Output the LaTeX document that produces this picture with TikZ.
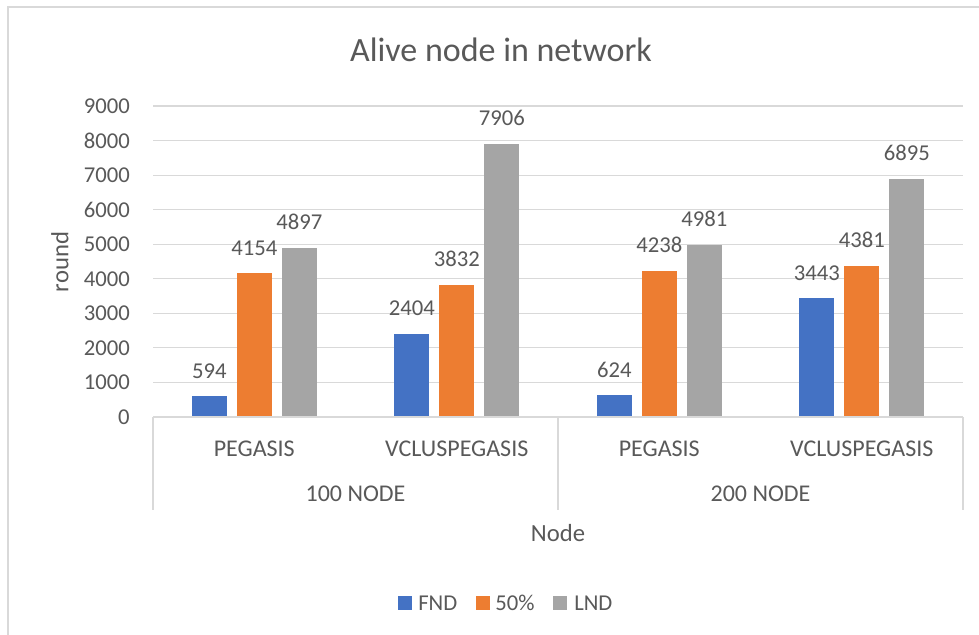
\documentclass[tikz,border=0pt]{standalone}
\usepackage{fontspec}
\setmainfont{Carlito}
\definecolor{fndblue}{HTML}{4472C4}
\definecolor{midorange}{HTML}{ED7D31}
\definecolor{lndgray}{HTML}{A5A5A5}
\definecolor{gridgray}{HTML}{D9D9D9}
\definecolor{txtgray}{HTML}{595959}
\begin{document}
\begin{tikzpicture}[x=0.75pt,y=-0.75pt,
  lbl/.style={text=txtgray,font=\fontsize{17}{20}\selectfont,inner sep=0pt},
  catlbl/.style={text=txtgray,font=\fontsize{18}{21}\selectfont,inner sep=0pt},
  axtitle/.style={text=txtgray,font=\fontsize{18.5}{22}\selectfont,inner sep=0pt},
  gridline/.style={draw=gridgray,line width=0.9pt},
  key/.style={inner sep=0pt,minimum size=10.5pt}]
\useasboundingbox (0,0) rectangle (979,635);
\fill[white] (0,0) rectangle (979,635);
% chart frame
\draw[gridgray,line width=1pt] (8,635) -- (8,7) -- (979,7);
% title
\node[text=txtgray,font=\fontsize{25.5}{29}\selectfont,inner sep=0pt] (title) at (501,50) {Alive node in network};
% horizontal gridlines and value ticks
\foreach \k in {1,...,9} \draw[gridline] (153,{417-34.556*\k}) -- (963,{417-34.556*\k});
\foreach \k in {0,...,9} {
  \pgfmathtruncatemacro{\tv}{1000*\k}
  \node[lbl,anchor=east] (tick\k) at (130,{417-34.556*\k}) {\tv};
}
% bars with value labels
\foreach \c/\a/\b/\g [count=\i] in {254.25/594/4154/4897, 456.75/2404/3832/7906, 659.25/624/4238/4981, 861.75/3443/4381/6895} {
  \fill[fndblue] ({\c-62.5},417) rectangle ({\c-27.5},{417-0.034556*\a});
  \fill[midorange] ({\c-17.5},417) rectangle ({\c+17.5},{417-0.034556*\b});
  \fill[lndgray] ({\c+27.5},417) rectangle ({\c+62.5},{417-0.034556*\g});
  \node[lbl,anchor=base] (vf\i) at ({\c-45},{417-0.034556*\a-18}) {\a};
  \node[lbl,anchor=base] (vm\i) at ({\c},{417-0.034556*\b-18}) {\b};
  \node[lbl,anchor=base] (vl\i) at ({\c+45},{417-0.034556*\g-18}) {\g};
}
% category axis
\draw[gridline] (153,417) -- (963,417);
\foreach \x in {153,558,963} \draw[gridline] (\x,417) -- (\x,510);
\node[catlbl] (c1) at (254.25,449) {PEGASIS};
\node[catlbl] (c2) at (456.75,449) {VCLUSPEGASIS};
\node[catlbl] (c3) at (659.25,449) {PEGASIS};
\node[catlbl] (c4) at (861.75,449) {VCLUSPEGASIS};
\node[catlbl] (g1) at (355.5,494) {100 NODE};
\node[catlbl] (g2) at (760.5,494) {200 NODE};
% axis titles
\node[axtitle] (xtitle) at (558,533) {Node};
\node[axtitle,rotate=90] (ytitle) at (60,262) {round};
% legend
\node[key,fill=fndblue] (kf) at (405,603) {};
\node[lbl,anchor=west] (lf) at (418,603) {FND};
\node[key,fill=midorange] (km) at (483,603) {};
\node[lbl,anchor=west] (lm) at (495,603) {50\%};
\node[key,fill=lndgray] (kl) at (560,603) {};
\node[lbl,anchor=west] (ll) at (574,603) {LND};
\end{tikzpicture}
\end{document}
